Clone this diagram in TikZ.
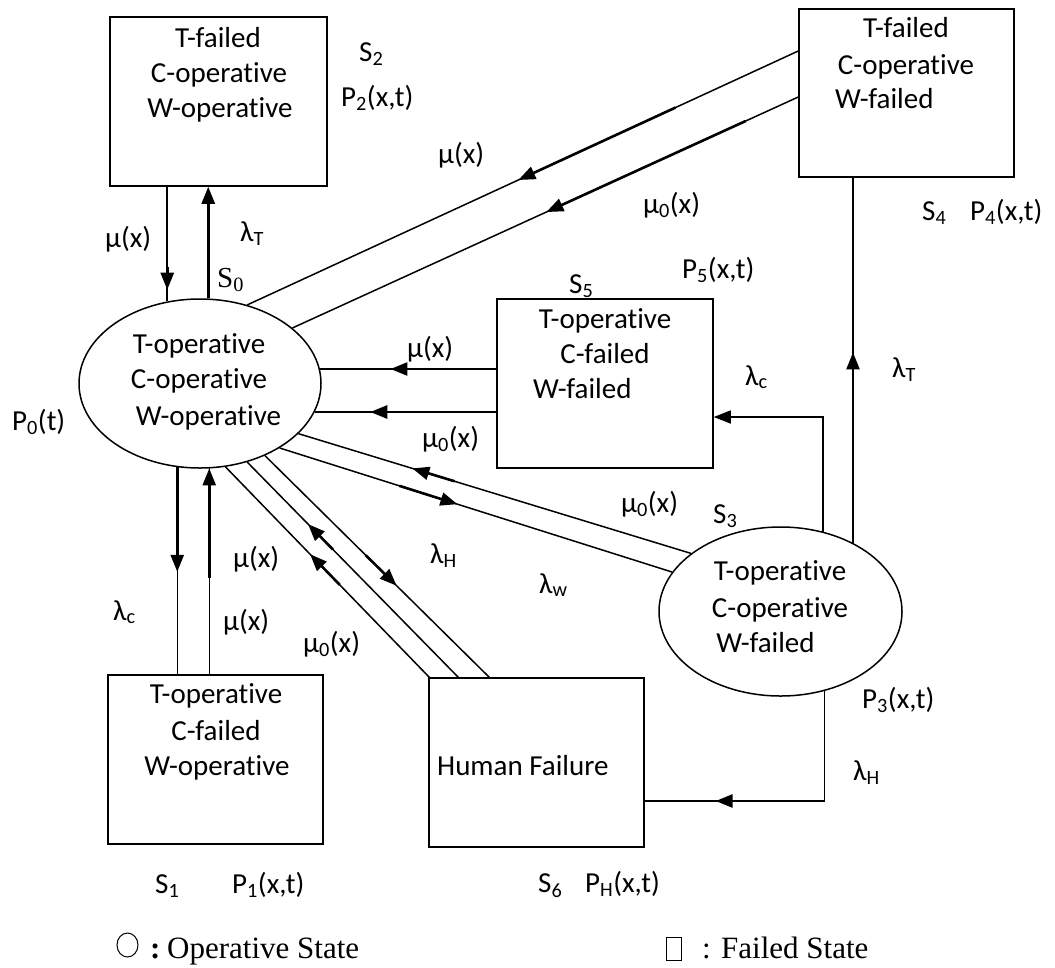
\documentclass[tikz,border=0pt]{standalone}
\usepackage{fontspec}
\newfontfamily\calib[Ligatures={NoCommon}, RawFeature={-liga;-clig;-calt;-dlig}]{Carlito}
\newfontfamily\tms{Liberation Serif}
\usetikzlibrary{arrows.meta,calc,shapes.geometric}
\begin{document}
\begin{tikzpicture}[x=1pt,y=-1pt,
  txt/.style={font=\calib\fontsize{29}{36}\selectfont, inner sep=0pt, anchor=base west},
  ctxt/.style={txt, anchor=base},
  ltxt/.style={font=\tms\fontsize{31}{36}\selectfont, inner sep=0pt, anchor=base west},
  stbox/.style={draw, line width=1.5pt, rectangle, minimum width=216pt, minimum height=169pt, inner sep=0pt},
  stell/.style={draw, line width=1.5pt, ellipse, minimum width=242pt, minimum height=169pt, inner sep=0pt},
  conn/.style={line width=1.5pt},
  arr/.style={line width=2.6pt, -{Triangle[length=17pt,width=13pt]}},
  tarr/.style={line width=1.5pt, -{Triangle[length=17pt,width=13pt]}}
]
\useasboundingbox (0,0) rectangle (1055,967);

% states
\node[stbox, minimum width=217pt] (s2) at (218.5,101.5) {};
\node[stbox, minimum width=215pt, minimum height=168pt] (s4) at (906.5,93) {};
\node[stbox] (s5) at (605,383.5) {};
\node[stbox, minimum width=215pt] (s1) at (215.5,759.5) {};
\node[stbox, minimum width=215pt] (s6) at (536.5,762.5) {};
\node[stell] (s0) at (200,383.5) {};
\node[stell, minimum width=243pt] (s3) at (780.5,611.5) {};

% state texts
\node[ctxt] (t2a) at (218,47) {T-failed};
\node[ctxt] (t2b) at (219,82) {C-operative};
\node[ctxt] (t2c) at (220,117) {W-operative};
\node[ctxt] (t4a) at (906,37) {T-failed};
\node[ctxt] (t4b) at (906,74) {C-operative};
\node[txt] (t4c) at (835,108) {W-failed};
\node[ctxt] (t5a) at (605,328) {T-operative};
\node[ctxt] (t5b) at (605,363) {C-failed};
\node[txt] (t5c) at (533,398) {W-failed};
\node[ctxt] (t0a) at (199,353) {T-operative};
\node[ctxt] (t0b) at (199,388) {C-operative};
\node[ctxt] (t0c) at (208.5,425) {W-operative};
\node[ctxt] (t3a) at (780,580) {T-operative};
\node[ctxt] (t3b) at (780,617) {C-operative};
\node[ctxt] (t3c) at (765.5,652) {W-failed};
\node[ctxt] (t1a) at (216,703) {T-operative};
\node[ctxt] (t1b) at (216,740) {C-failed};
\node[ctxt] (t1c) at (217,775) {W-operative};
\node[txt] (t6a) at (437,775) {Human Failure};

% attachment points
\coordinate (s2a) at ([xshift=58pt]s2.south west);
\coordinate (s2b) at ([xshift=99pt]s2.south west);
\coordinate (s4a) at ([yshift=42pt]s4.west);
\coordinate (s4b) at ([yshift=-4pt]s4.west);
\coordinate (s4c) at ([xshift=-53.5pt]s4.south);
\coordinate (s5a) at ([yshift=14.5pt]s5.west);
\coordinate (s5b) at ([yshift=-28.5pt]s5.west);
\coordinate (s5c) at ([yshift=-33.5pt]s5.east);
\coordinate (s1a) at ([xshift=70pt]s1.north west);
\coordinate (s1b) at ([xshift=102pt]s1.north west);
\coordinate (s6a) at ([xshift=1pt]s6.north west);
\coordinate (s6b) at ([xshift=30pt]s6.north west);
\coordinate (s6c) at ([xshift=61pt]s6.north west);
\coordinate (s6d) at ([yshift=-38.5pt]s6.east);
\coordinate (e2a) at (s0.111 -| s2a);
\coordinate (e2b) at (s0.84 -| s2b);
\coordinate (e5a) at (s0.7 |- s5a);
\coordinate (e5b) at (s0.346 |- s5b);
\coordinate (e1a) at (s0.255 -| s1a);
\coordinate (e1b) at (s0.277 -| s1b);
\coordinate (e4) at (s3.43 -| s4c);
\coordinate (hc) at (s3.299 |- s6d);

% S0 <-> S2
\draw[conn, line width=2pt] (s2a) -- (e2a);
\draw[arr] ($(s2a)!0.7!(e2a)$) -- ($(s2a)!0.9!(e2a)$);
\draw[arr] (e2b) -- (s2b);
% S4 -> S0
\draw[conn] (s4a) -- (s0.59);
\draw[arr] ($(s4a)!0.223!(s0.59)$) -- ($(s4a)!0.508!(s0.59)$);
\draw[conn] (s4b) -- (s0.31);
\draw[arr] ($(s4b)!0.104!(s0.31)$) -- ($(s4b)!0.498!(s0.31)$);
% S5 -> S0
\draw[conn] (s5a) -- (e5a);
\draw[arr] ($(s5a)!0.32!(e5a)$) -- ($(s5a)!0.60!(e5a)$);
\draw[conn] (s5b) -- (e5b);
\draw[arr] ($(s5b)!0.377!(e5b)$) -- ($(s5b)!0.694!(e5b)$);
% S0 <-> S3
\draw[conn] (s3.147) -- (s0.333);
\draw[arr] ($(s3.147)!0.602!(s0.333)$) -- ($(s3.147)!0.710!(s0.333)$);
\draw[conn] (s0.321) -- (s3.160);
\draw[arr] ($(s0.321)!0.305!(s3.160)$) -- ($(s0.321)!0.453!(s3.160)$);
% S0 <-> S6
\draw[conn] (s6a) -- (s0.287);
\draw[arr] ($(s6a)!0.439!(s0.287)$) -- ($(s6a)!0.585!(s0.287)$);
\draw[conn] (s6b) -- (s0.301);
\draw[arr] ($(s6b)!0.594!(s0.301)$) -- ($(s6b)!0.712!(s0.301)$);
\draw[conn] (s0.312) -- (s6c);
\draw[arr] ($(s0.312)!0.45!(s6c)$) -- ($(s0.312)!0.587!(s6c)$);
% S0 <-> S1
\draw[conn] (e1a) -- (s1a);
\draw[arr] (e1a) -- ($(e1a)!0.505!(s1a)$);
\draw[conn] (s1b) -- (e1b);
\draw[arr] ($(s1b)!0.469!(e1b)$) -- (e1b);
% S3 -> S5, S4, S6
\draw[tarr] (s3.62) |- (s5c);
\draw[conn] (e4) -- (s4c);
\draw[arr] ($(e4)!0.219!(s4c)$) -- ($(e4)!0.522!(s4c)$);
\draw[conn] (s3.299) -- (hc) -- (s6d);
\draw[arr] (hc) -- ($(hc)!0.606!(s6d)$);

% labels
\node[txt] (l1) at (359,61) {S\textsubscript{2}};
\node[txt] (l2) at (341,106) {P\textsubscript{2}(x,t)};
\node[txt] (l3) at (105,247) {μ(x)};
\node[txt] (l4) at (240,241) {λ\textsubscript{T}};
\node[ltxt, font=\tms\fontsize{29}{36}\selectfont] (l5) at (217,287) {S\textsubscript{0}};
\node[txt] (l6) at (12,430) {P\textsubscript{0}(t)};
\node[txt] (l7) at (438,163) {μ(x)};
\node[txt] (l8) at (643,213) {μ\textsubscript{0}(x)};
\node[txt] (l9) at (922,220) {S\textsubscript{4}};
\node[txt] (l10) at (970,220) {P\textsubscript{4}(x,t)};
\node[txt] (l11) at (682,278) {P\textsubscript{5}(x,t)};
\node[txt] (l12) at (569,293) {S\textsubscript{5}};
\node[txt] (l13) at (892,377) {λ\textsubscript{T}};
\node[txt] (l14) at (745,385) {λ\textsubscript{c}};
\node[txt] (l15) at (407,357) {μ(x)};
\node[txt] (l16) at (422,447) {μ\textsubscript{0}(x)};
\node[txt] (l17) at (621,512) {μ\textsubscript{0}(x)};
\node[txt] (l18) at (713,523) {S\textsubscript{3}};
\node[txt] (l19) at (430,563) {λ\textsubscript{H}};
\node[txt] (l20) at (233,567) {μ(x)};
\node[txt] (l21) at (539,593) {λ\textsubscript{w}};
\node[txt] (l22) at (113,620) {λ\textsubscript{c}};
\node[txt] (l23) at (223,630) {μ(x)};
\node[txt] (l24) at (303,652) {μ\textsubscript{0}(x)};
\node[txt] (l25) at (862,708) {P\textsubscript{3}(x,t)};
\node[txt] (l26) at (853,780) {λ\textsubscript{H}};
\node[txt] (l27) at (155,893) {S\textsubscript{1}};
\node[txt] (l28) at (232,893) {P\textsubscript{1}(x,t)};
\node[txt] (l29) at (538,892) {S\textsubscript{6}};
\node[txt] (l30) at (585,892) {P\textsubscript{H}(x,t)};

% legend
\node[draw, ellipse, line width=1pt, minimum width=21pt, minimum height=24pt, inner sep=0pt] (legc) at (127.5,945) {};
\node[ltxt] (legc1) at (150,958) {\textbf{:}};
\node[ltxt] (legc2) at (167,958) {Operative State};
\node[draw, line width=1pt, minimum width=15pt, minimum height=23pt, inner sep=0pt] (legs) at (673.5,948.5) {};
\node[ltxt] (legs1) at (702,958) {: Failed State};
\end{tikzpicture}
\end{document}
